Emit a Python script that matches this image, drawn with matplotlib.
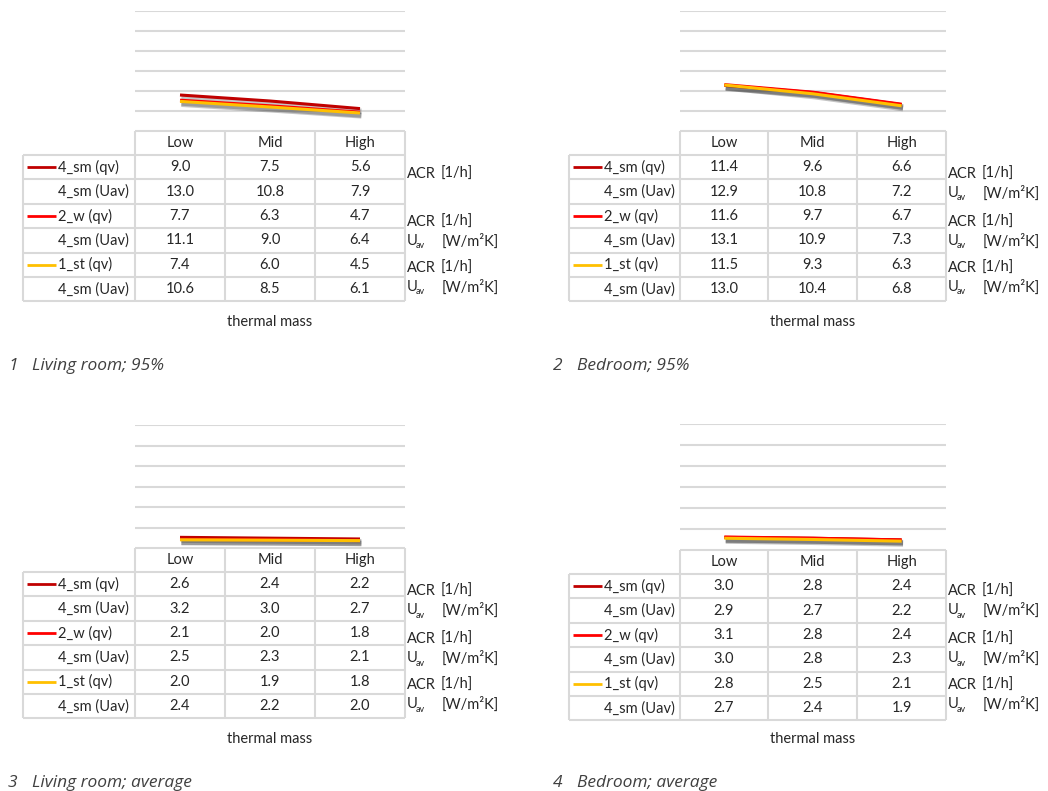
import matplotlib
matplotlib.use("Agg")
import matplotlib.pyplot as plt
import matplotlib.patheffects as pe

plt.rcParams['font.family'] = ['Lato', 'DejaVu Sans']

W, H = 1048, 791

categories = ["Low", "Mid", "High"]
row_labels = ["4_sm (qv)", "4_sm (Uav)", "2_w (qv)", "4_sm (Uav)", "1_st (qv)", "4_sm (Uav)"]
series_colors = ["#C00000", "#FF0000", "#FFC000"]
captions = ["Living room; 95%", "Bedroom; 95%", "Living room; average", "Bedroom; average"]

# rows per panel: qv, Uav for 4_sm / 2_w / 1_st
living_95 = [[9.0, 7.5, 5.6], [13.0, 10.8, 7.9],
             [7.7, 6.3, 4.7], [11.1, 9.0, 6.4],
             [7.4, 6.0, 4.5], [10.6, 8.5, 6.1]]
bedroom_95 = [[11.4, 9.6, 6.6], [12.9, 10.8, 7.2],
              [11.6, 9.7, 6.7], [13.1, 10.9, 7.3],
              [11.5, 9.3, 6.3], [13.0, 10.4, 6.8]]
living_avg = [[2.6, 2.4, 2.2], [3.2, 3.0, 2.7],
              [2.1, 2.0, 1.8], [2.5, 2.3, 2.1],
              [2.0, 1.9, 1.8], [2.4, 2.2, 2.0]]
bedroom_avg = [[3.0, 2.8, 2.4], [2.9, 2.7, 2.2],
               [3.1, 2.8, 2.4], [3.0, 2.8, 2.3],
               [2.8, 2.5, 2.1], [2.7, 2.4, 1.9]]

panels = [living_95, bedroom_95, living_avg, bedroom_avg]
# first panel has no U_av label on the first pair
show_first_uav = [False, True, True, True]

# panel geometry in pixels: label col left, column edges, table top, plot top
layout = [
    dict(lab=23, cols=[135, 225, 315, 405], top=131, ptop=11, cap_x=8, dy=0),
    dict(lab=569, cols=[680, 768, 857, 946], top=131, ptop=11, cap_x=553, dy=0),
    dict(lab=23, cols=[135, 225, 315, 405], top=548, ptop=425, cap_x=8, dy=417),
    dict(lab=569, cols=[680, 768, 857, 946], top=550, ptop=424, cap_x=553, dy=417),
]

GRID = "#D9D9D9"
TXT = "#262626"
ROW_H = 24.4
HEAD_H = 24
FS = 10.5

fig = plt.figure(figsize=(W / 100, H / 100), dpi=100)
base = fig.add_axes([0, 0, 1, 1])
base.set_xlim(0, W)
base.set_ylim(H, 0)
base.axis('off')


def draw_table(ax, data, lay, first_uav, number):
    cols = lay['cols']
    top = lay['top']
    lab = lay['lab']
    bottom = top + HEAD_H + ROW_H * len(data)
    ax.hlines(top, cols[0], cols[-1], color=GRID, lw=1.5)
    for c in cols:
        ax.vlines(c, top, bottom, color=GRID, lw=1.5)
    ax.vlines(lab, top + HEAD_H, bottom, color=GRID, lw=1.5)
    for i in range(len(data) + 1):
        y = top + HEAD_H + ROW_H * i
        ax.hlines(y, lab, cols[-1], color=GRID, lw=1.5)
    for j, cat in enumerate(categories):
        ax.text((cols[j] + cols[j + 1]) / 2, top + HEAD_H / 2, cat,
                ha='center', va='center', fontsize=FS, color=TXT)
    for i, row in enumerate(data):
        yc = top + HEAD_H + ROW_H * (i + 0.5)
        ax.text(lab + 35, yc, row_labels[i], ha='left', va='center',
                fontsize=FS, color=TXT)
        if i % 2 == 0:
            ax.plot([lab + 4, lab + 33], [yc, yc], color=series_colors[i // 2],
                    lw=2, solid_capstyle='butt')
        for j, v in enumerate(row):
            ax.text((cols[j] + cols[j + 1]) / 2, yc, f"{v:.1f}",
                    ha='center', va='center', fontsize=FS, color=TXT)
    # unit labels
    ux = cols[-1] + 2
    dy = lay['dy']
    for k, (ya, yu) in enumerate(zip([174, 222, 268], [193, 241, 287])):
        ax.text(ux, ya + dy, "ACR", ha='left', va='center', fontsize=FS, color=TXT)
        ax.text(ux + 34, ya + dy, "[1/h]", ha='left', va='center', fontsize=FS, color=TXT)
        if k == 0 and not first_uav:
            continue
        ax.text(ux, yu + dy, "U", ha='left', va='center', fontsize=FS, color=TXT)
        ax.text(ux + 9, yu + dy + 5, "av", ha='left', va='center', fontsize=6.5, color=TXT)
        ax.text(ux + 35, yu + dy, "[W/m²K]", ha='left', va='center', fontsize=FS, color=TXT)
    ax.text((cols[0] + cols[-1]) / 2, 322 + dy, "thermal mass", ha='center',
            va='center', fontsize=FS, color=TXT)
    ax.text(lay['cap_x'], 366 + dy, str(number), ha='left', va='center',
            fontsize=12.5, style='italic', color="#404040", family='Open Sans')
    ax.text(lay['cap_x'] + 24, 366 + dy, captions[number - 1], ha='left', va='center',
            fontsize=12.5, style='italic', color="#404040", family='Open Sans')


def draw_lines(data, lay):
    cols = lay['cols']
    x0, x1 = cols[0], cols[-1]
    y0, y1 = lay['ptop'], lay['top']
    ax = fig.add_axes([x0 / W, 1 - y1 / H, (x1 - x0) / W, (y1 - y0) / H])
    ax.patch.set_alpha(0)
    ax.set_xlim(-0.5, 2.5)
    ax.set_ylim(0, 30)
    ax.set_yticks(range(5, 31, 5))
    ax.set_xticks([])
    ax.tick_params(left=False, labelleft=False)
    ax.yaxis.grid(True, color=GRID, lw=1.5)
    ax.set_axisbelow(True)
    for s in ax.spines.values():
        s.set_visible(False)
    shadow = [pe.SimpleLineShadow(offset=(1.0, -2.0), shadow_color='#303030', alpha=0.28,
                                  linewidth=4),
              pe.Normal()]
    for k in range(3):
        ax.plot(range(len(categories)), data[2 * k], color=series_colors[k], lw=2.2,
                solid_capstyle='butt', path_effects=shadow, clip_on=False)


for n, (data, lay) in enumerate(zip(panels, layout), start=1):
    draw_table(base, data, lay, show_first_uav[n - 1], n)
    draw_lines(data, lay)

fig.savefig("out.png", dpi=100)
